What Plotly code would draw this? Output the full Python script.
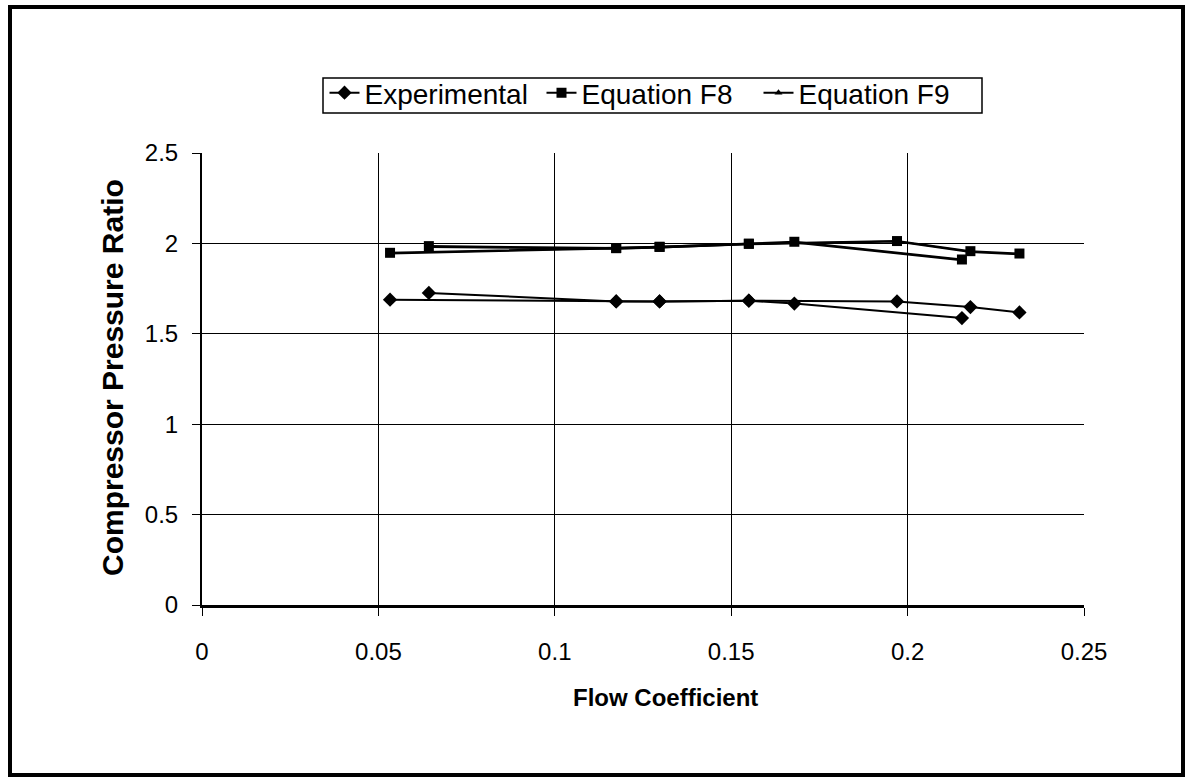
import plotly.graph_objects as go

# Flow coefficient / pressure ratio readings; None splits the two runs of each series
flow_exp = [0.0533, 0.1174, 0.1297, 0.1550, 0.1970, 0.2178, 0.2317, None,
            0.0643, 0.1174, 0.1297, 0.1550, 0.1679, 0.2154]
ratio_exp = [1.689, 1.679, 1.679, 1.683, 1.679, 1.648, 1.618, None,
             1.726, 1.679, 1.679, 1.683, 1.667, 1.587]

flow_f8 = [0.0533, 0.1174, 0.1297, 0.1550, 0.1970, 0.2178, 0.2317, None,
           0.0643, 0.1174, 0.1297, 0.1550, 0.1679, 0.2154]
ratio_f8 = [1.948, 1.974, 1.981, 1.998, 2.013, 1.957, 1.944, None,
            1.985, 1.974, 1.981, 1.998, 2.009, 1.911]

flow_f9 = [0.0533, 0.1174, 0.1297, 0.1550, 0.1970, 0.2178, 0.2317, None,
           0.0643, 0.1174, 0.1297, 0.1550, 0.1679, 0.2154]
ratio_f9 = [1.944, 1.970, 1.978, 1.995, 2.010, 1.953, 1.940, None,
            1.980, 1.970, 1.978, 1.995, 2.005, 1.907]

x_ticks = [0, 0.05, 0.1, 0.15, 0.2, 0.25]
x_labels = ["0", "0.05", "0.1", "0.15", "0.2", "0.25"]
y_ticks = [0, 0.5, 1, 1.5, 2, 2.5]
y_labels = ["0", "0.5", "1", "1.5", "2", "2.5"]

W, H = 1185, 777
ML, MR, MT, MB = 202, 101, 153, 172
FONT = "Liberation Sans, Arial, sans-serif"

fig = go.Figure()
fig.add_trace(go.Scatter(
    x=flow_exp, y=ratio_exp, name="Experimental", mode="lines+markers",
    connectgaps=False,
    line=dict(color="black", width=2),
    marker=dict(symbol="diamond", size=11, color="black"),
))
fig.add_trace(go.Scatter(
    x=flow_f8, y=ratio_f8, name="Equation F8", mode="lines+markers",
    connectgaps=False,
    line=dict(color="black", width=2),
    marker=dict(symbol="square", size=10, color="black"),
))
fig.add_trace(go.Scatter(
    x=flow_f9, y=ratio_f9, name="Equation F9", mode="lines+markers",
    connectgaps=False,
    line=dict(color="black", width=2),
    marker=dict(symbol="triangle-up", size=7, color="black"),
))

plot_w = W - ML - MR
plot_h = H - MT - MB


def px_to_paper_x(px):
    return (px - ML) / plot_w


def px_to_paper_y(py):
    return (H - MB - py) / plot_h


# outer frame around the whole chart
fig.add_shape(
    type="rect", xref="paper", yref="paper",
    x0=px_to_paper_x(10), x1=px_to_paper_x(1183),
    y0=px_to_paper_y(775), y1=px_to_paper_y(7),
    line=dict(color="black", width=4), fillcolor="rgba(0,0,0,0)",
)
# frame drawn around the legend entries
fig.add_shape(
    type="rect", xref="paper", yref="paper",
    x0=px_to_paper_x(323), x1=px_to_paper_x(982),
    y0=px_to_paper_y(113), y1=px_to_paper_y(78),
    line=dict(color="black", width=1.5), fillcolor="white", layer="below",
)

# axis titles
fig.add_annotation(
    text="<b>Flow Coefficient</b>", xref="paper", yref="paper",
    x=px_to_paper_x(665), y=px_to_paper_y(697),
    xanchor="center", yanchor="middle", showarrow=False,
    font=dict(family=FONT, size=24, color="black"),
)
fig.add_annotation(
    text="<b>Compressor Pressure Ratio</b>", xref="paper", yref="paper",
    x=px_to_paper_x(112), y=px_to_paper_y(378), textangle=-90,
    xanchor="center", yanchor="middle", showarrow=False,
    font=dict(family=FONT, size=30, color="black"),
)

fig.update_layout(
    width=W, height=H,
    margin=dict(l=ML, r=MR, t=MT, b=MB),
    paper_bgcolor="white", plot_bgcolor="white",
    font=dict(family=FONT, color="black", size=24),
    showlegend=True,
    legend=dict(
        orientation="h",
        x=px_to_paper_x(650), xanchor="center",
        y=px_to_paper_y(68), yanchor="top",
        borderwidth=0,
        bgcolor="rgba(0,0,0,0)",
        font=dict(family=FONT, size=28, color="black"),
        itemwidth=30, tracegroupgap=0,
        entrywidth=172, entrywidthmode="pixels",
    ),
    xaxis=dict(
        range=[0, 0.25], tickvals=x_ticks, ticktext=x_labels,
        showgrid=True, gridcolor="black", gridwidth=1,
        showline=True, linecolor="black", linewidth=3, mirror=False,
        ticks="outside", ticklen=8, tickcolor="black", tickwidth=1,
        zeroline=False, ticklabelstandoff=15,
        tickfont=dict(family=FONT, size=24),
    ),
    yaxis=dict(
        range=[0, 2.5], tickvals=y_ticks, ticktext=y_labels,
        showgrid=True, gridcolor="black", gridwidth=1,
        showline=True, linecolor="black", linewidth=2, mirror=False,
        ticks="outside", ticklen=8, tickcolor="black", tickwidth=1,
        zeroline=False, ticklabelstandoff=9,
        tickfont=dict(family=FONT, size=24),
    ),
)

fig.write_html("out.html")
